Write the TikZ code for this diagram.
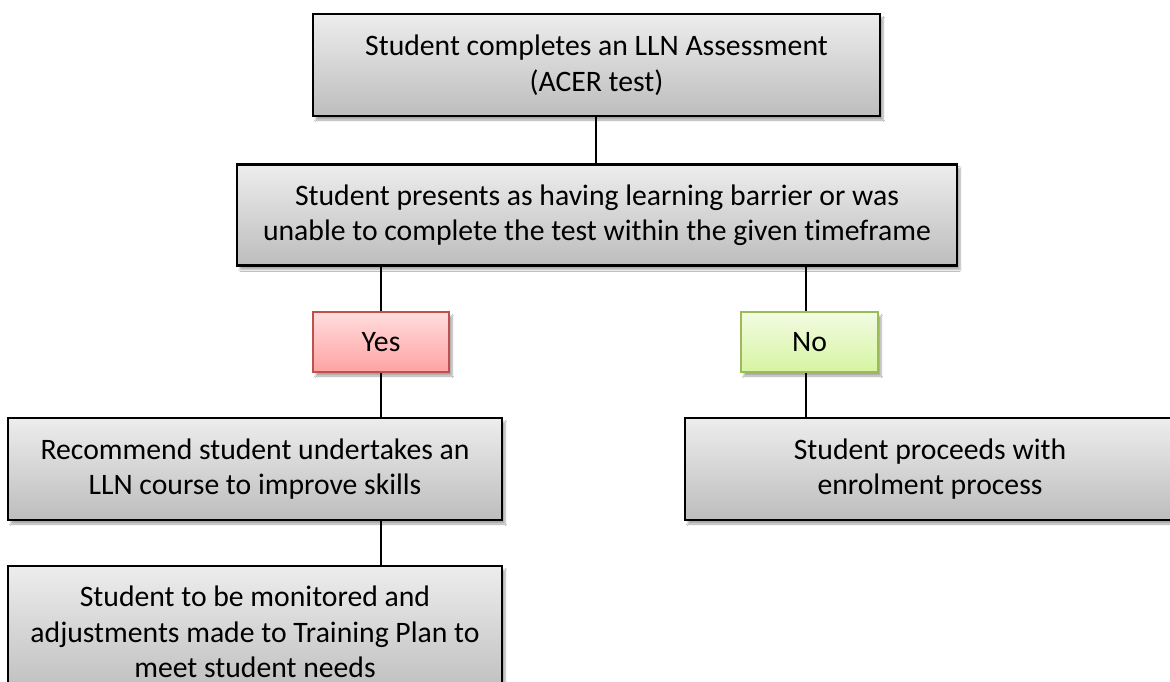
\documentclass[tikz,border=0pt]{standalone}
\usepackage{fontspec}
\setmainfont{Carlito}[Ligatures={NoCommon,NoRequired,NoContextual}]
\usetikzlibrary{shadows.blur}
\definecolor{grtop}{HTML}{EDEDED}
\definecolor{grbot}{HTML}{BDBDBD}
\definecolor{redtop}{HTML}{FFDDDD}
\definecolor{redbot}{HTML}{FFA2A2}
\definecolor{redline}{HTML}{C0504D}
\definecolor{gntop}{HTML}{F2FBE2}
\definecolor{gnbot}{HTML}{D6F5A2}
\definecolor{gnline}{HTML}{9BBB59}
\tikzset{
  boxbase/.style={rectangle, inner sep=0pt, align=center,
    font=\fontsize{29.7}{35.5}\selectfont,
    blur shadow={shadow xshift=3pt, shadow yshift=-4pt, shadow blur steps=6, shadow opacity=35}},
  graybox/.style={boxbase, draw=black, line width=2.6pt,
    top color=grtop, bottom color=grbot},
  yesbox/.style={boxbase, draw=redline, line width=2pt,
    top color=redtop, bottom color=redbot},
  nobox/.style={boxbase, draw=gnline, line width=2pt,
    top color=gntop, bottom color=gnbot},
  conn/.style={draw=black, line width=1.8pt}
}
\begin{document}
\begin{tikzpicture}[x=1pt,y=-1pt]
\useasboundingbox (0,0) rectangle (1170,682);
\clip (0,0) rectangle (1170,682);
\fill[white] (0,0) rectangle (1170,682);
\node[graybox, minimum width=567pt, minimum height=102pt] (b1) at (596.5,65)
  {Student completes an LLN Assessment\\(ACER test)};
\node[graybox, minimum width=720pt, minimum height=101pt] (b2) at (597,215)
  {Student presents as having learning barrier or was\\unable to complete the test within the given timeframe};
\node[yesbox, minimum width=136pt, minimum height=60pt] (yes) at (381,342) {Yes};
\node[nobox, minimum width=137pt, minimum height=60pt] (no) at (809.5,342) {No};
\node[graybox, minimum width=494pt, minimum height=102pt] (b3) at (255,469)
  {Recommend student undertakes an\\LLN course to improve skills};
\node[graybox, minimum width=490pt, minimum height=102pt] (b5) at (930,469)
  {Student proceeds with\\enrolment process};
\node[graybox, minimum width=494pt, minimum height=132pt] (b4) at (255,632)
  {Student to be monitored and\\adjustments made to Training Plan to\\meet student needs};
% connectors
\draw[conn] (b1.south -| 596,0) -- (b2.north -| 596,0);
\draw[conn] (b2.south -| yes.north) -- (yes.north);
\draw[conn] (yes.south) -- (b3.north -| yes.south);
\draw[conn] (b3.south -| yes.south) -- (b4.north -| yes.south);
\draw[conn] (b2.south -| 806,0) -- (no.north -| 806,0);
\draw[conn] (no.south -| 806,0) -- (b5.north -| 806,0);
\end{tikzpicture}
\end{document}
